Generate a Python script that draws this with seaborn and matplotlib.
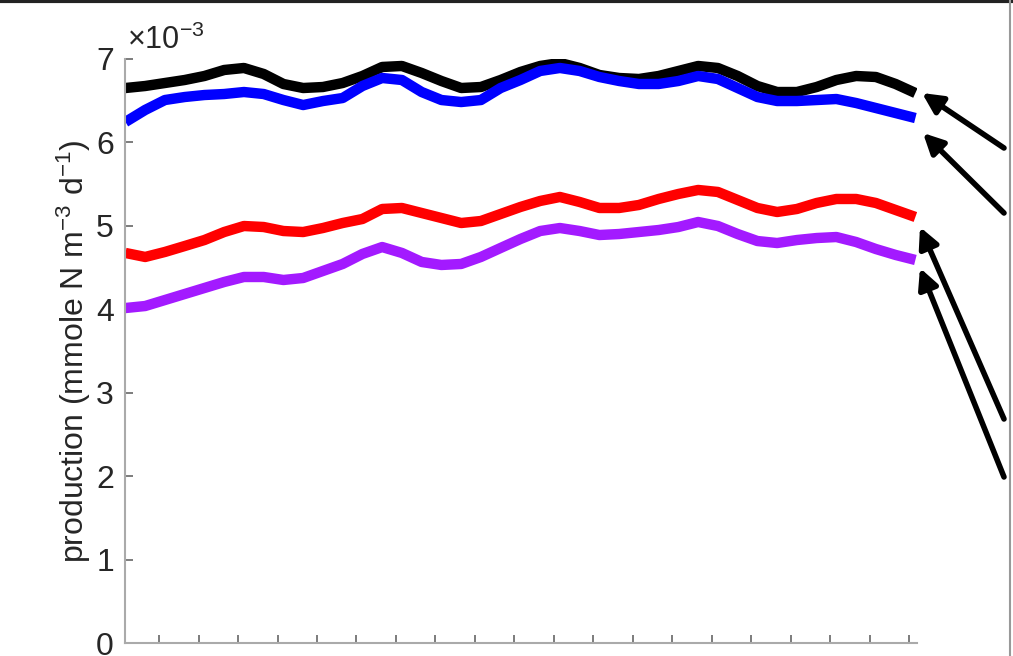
import numpy as np
import pandas as pd
import seaborn as sns
import matplotlib.pyplot as plt
from matplotlib.lines import Line2D

# x in tick units (ticks at 1..20), values in units of 1e-3 mmole N m-3 d-1
x = [0.15 + 0.5 * i for i in range(41)]

black = [6.652, 6.676, 6.712, 6.748, 6.796, 6.868, 6.892, 6.820, 6.700, 6.652,
         6.664, 6.712, 6.796, 6.904, 6.916, 6.832, 6.736, 6.652, 6.664, 6.748,
         6.844, 6.916, 6.952, 6.892, 6.808, 6.772, 6.760, 6.796, 6.856, 6.916,
         6.892, 6.796, 6.676, 6.604, 6.604, 6.664, 6.748, 6.796, 6.784, 6.700,
         6.592]
blue = [6.245, 6.389, 6.508, 6.544, 6.568, 6.580, 6.604, 6.580, 6.508, 6.448,
        6.496, 6.532, 6.676, 6.772, 6.748, 6.604, 6.508, 6.484, 6.508, 6.652,
        6.748, 6.856, 6.892, 6.856, 6.784, 6.736, 6.700, 6.700, 6.736, 6.796,
        6.760, 6.652, 6.544, 6.496, 6.496, 6.508, 6.520, 6.472, 6.412, 6.352,
        6.292]
red = [4.675, 4.627, 4.687, 4.758, 4.830, 4.926, 4.998, 4.986, 4.938, 4.926,
       4.974, 5.034, 5.082, 5.202, 5.214, 5.154, 5.094, 5.034, 5.058, 5.142,
       5.226, 5.298, 5.346, 5.286, 5.214, 5.214, 5.250, 5.322, 5.382, 5.430,
       5.406, 5.310, 5.214, 5.166, 5.202, 5.274, 5.322, 5.322, 5.274, 5.190,
       5.106]
purple = [4.015, 4.039, 4.111, 4.183, 4.255, 4.327, 4.387, 4.387, 4.351, 4.375,
          4.459, 4.543, 4.663, 4.746, 4.675, 4.567, 4.531, 4.543, 4.627, 4.735,
          4.842, 4.938, 4.974, 4.938, 4.890, 4.902, 4.926, 4.950, 4.986, 5.046,
          4.998, 4.902, 4.818, 4.794, 4.830, 4.854, 4.866, 4.806, 4.722, 4.651,
          4.591]

series = ['black', 'blue', 'red', 'purple']
colors = {'black': '#000000', 'blue': '#0000ff', 'red': '#ff0000', 'purple': '#a31aff'}

df = pd.concat([pd.DataFrame({'x': x, 'y': v, 'run': name})
                for name, v in zip(series, [black, blue, red, purple])])

sns.set_theme(style='white')
plt.rcParams['font.family'] = ['Liberation Sans', 'DejaVu Sans']
plt.rcParams['mathtext.fontset'] = 'custom'
plt.rcParams['mathtext.rm'] = 'Liberation Sans'
plt.rcParams['mathtext.it'] = 'Liberation Sans:italic'

fig = plt.figure(figsize=(10.13, 6.56), dpi=100)
ax = fig.add_axes([0.1234, 0.0198, 0.7818, 0.8903])

sns.lineplot(data=df, x='x', y='y', hue='run', palette=colors, linewidth=7.5,
             legend=False, ax=ax, solid_capstyle='butt', solid_joinstyle='round')

ax.set_xlim(0.139, 20.19)
ax.set_ylim(0, 7)
ax.set_xticks(range(1, 21))
ax.set_xticklabels([])
ax.set_yticks(range(0, 8))
ax.tick_params(axis='both', direction='in', length=6, width=1.2, color='#666666',
               labelsize=23, labelcolor='#262626', pad=8, bottom=True, left=True)
for side in ['top', 'right']:
    ax.spines[side].set_visible(False)
for side in ['left', 'bottom']:
    ax.spines[side].set_color('#aaaaaa')
    ax.spines[side].set_linewidth(1.5)

ax.set_xlabel('')
ax.set_ylabel('production (mmole N m$^{-3}$ d$^{-1}$)', fontsize=23,
              color='#262626', labelpad=2)
ax.text(0.003, 1.005, '\u00d710$^{-3}$', transform=ax.transAxes, fontsize=22,
        color='#262626', ha='left', va='bottom')

# arrows pointing at line ends (figure pixels)
arrows = [((922, 563), (1004, 508)), ((923, 523), (1004, 443)),
          ((920, 429), (1004, 237)), ((920, 388), (1004, 179))]
for tip, tail in arrows:
    ax.annotate('', xy=tip, xytext=tail, xycoords='figure pixels',
                textcoords='figure pixels', annotation_clip=False,
                arrowprops=dict(arrowstyle='-|>', lw=4, color='#000000',
                                mutation_scale=30, shrinkA=0, shrinkB=0))

# frame edges from the screenshot
fig.add_artist(Line2D([0, 1], [0.998, 0.998], transform=fig.transFigure,
                      color='#222222', lw=3))
fig.add_artist(Line2D([0.997, 0.997], [0, 1], transform=fig.transFigure,
                      color='#999999', lw=1.5))

fig.savefig('out.png', dpi=100)
